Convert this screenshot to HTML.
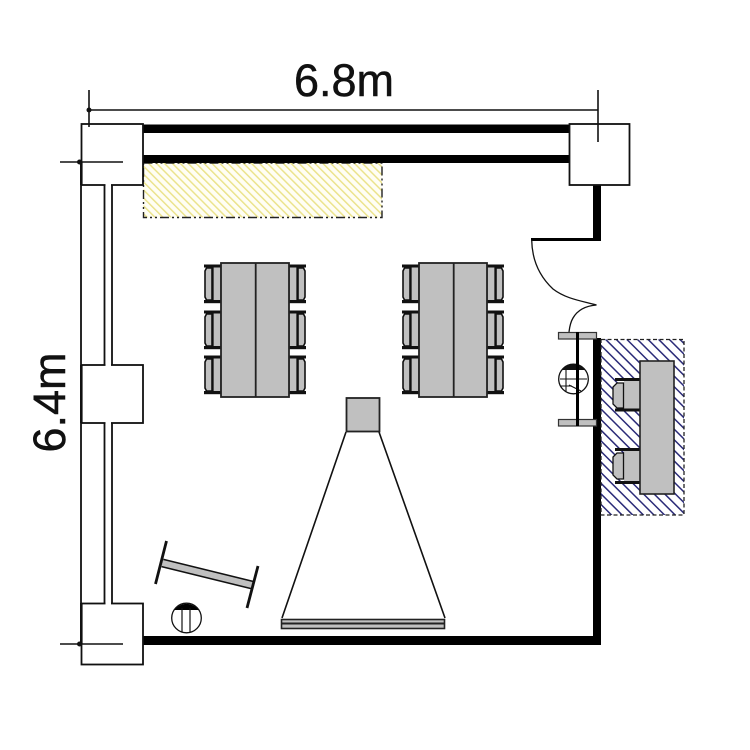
<!DOCTYPE html>
<html><head><meta charset="utf-8"><style>
html,body{margin:0;padding:0;background:#fff}
svg{display:block}
text{font-family:"Liberation Sans",sans-serif;fill:#111;stroke:#111;stroke-width:.5px}
</style></head><body>
<svg width="750" height="750" viewBox="0 0 750 750" xmlns="http://www.w3.org/2000/svg">
<defs>
<pattern id="y" width="5.600" height="5.600" patternUnits="userSpaceOnUse" patternTransform="rotate(-45)"><rect width="5.600" height="5.600" fill="#fffef4"/><rect x="0" width="1.500" height="5.600" fill="#ebe38c"/></pattern>
<pattern id="b" width="7.500" height="7.500" patternUnits="userSpaceOnUse" patternTransform="rotate(-45)"><rect width="7.500" height="7.500" fill="#fff"/><rect x="0" width="1.500" height="7.500" fill="#2b2b78"/></pattern>
<g id="chairL">
<rect x="0" y="1" width="17" height="37" fill="#fff"/>
<rect x="9" y="1" width="8" height="36" fill="#c0c0c0" stroke="#111" stroke-width="1.300"/>
<path d="M2.500 3H8V35H2.500L1 32V6Z" fill="#c0c0c0" stroke="#111" stroke-width="1.600"/>
<rect x="0" y="-.5" width="17" height="3" fill="#111"/>
<rect x="0" y="35" width="17" height="3.200" fill="#111"/>
</g>
<g id="table">
<use href="#chairL" x="204" y="265"/><use href="#chairL" x="204" y="311"/><use href="#chairL" x="204" y="356"/>
<use href="#chairL" transform="translate(306,265) scale(-1,1)"/><use href="#chairL" transform="translate(306,311) scale(-1,1)"/><use href="#chairL" transform="translate(306,356) scale(-1,1)"/>
<rect x="221" y="263" width="68" height="134" fill="#c0c0c0" stroke="#222" stroke-width="1.800"/>
<line x1="255.700" y1="263" x2="255.700" y2="397" stroke="#222" stroke-width="1.800"/>
</g>
</defs>

<!-- dimensions -->
<text x="344" y="96" font-size="45" text-anchor="middle">6.8m</text>
<text transform="translate(65,402.500) rotate(-90)" font-size="45" text-anchor="middle">6.4m</text>
<g stroke="#111" stroke-width="1.600" fill="none">
<line x1="89" y1="110" x2="598" y2="110"/>
<line x1="89" y1="90" x2="89" y2="127"/>
<line x1="598" y1="90" x2="598" y2="142"/>
<line x1="60" y1="162" x2="123" y2="162"/>
<line x1="60" y1="644" x2="123" y2="644"/>
</g>

<!-- yellow zone -->
<rect x="143.500" y="163" width="238.500" height="54.500" fill="url(#y)"/>
<rect x="143.500" y="163" width="238.500" height="54.500" fill="none" stroke="#222" stroke-width="1.400" stroke-dasharray="9 3 2 3 2 3"/>

<!-- walls -->
<rect x="143" y="124.500" width="427" height="8.500" fill="#000"/>
<rect x="143" y="155" width="427" height="8" fill="#000"/>
<rect x="593" y="185" width="8" height="55" fill="#000"/>
<rect x="531" y="238" width="70" height="3" fill="#000"/>
<rect x="593" y="338" width="8" height="307" fill="#000"/>
<rect x="143" y="636" width="458" height="9" fill="#000"/>

<!-- window / pillars -->
<g fill="none" stroke="#111" stroke-width="1.800">
<path d="M81 185V365M104.500 185V365M112 185V365M81 423V603M104.500 423V603M112 423V603"/>
</g>
<g fill="#fff" stroke="#111" stroke-width="1.800">
<rect x="81.500" y="124" width="61.500" height="61"/>
<rect x="569.500" y="124" width="60" height="61"/>
<rect x="81.500" y="365" width="61.500" height="58"/>
<rect x="81.500" y="603.500" width="61.500" height="61"/>
</g>
<rect x="105.500" y="183" width="5.500" height="4" fill="#fff"/>
<rect x="105.500" y="363.500" width="5.500" height="3" fill="#fff"/>
<rect x="105.500" y="422" width="5.500" height="3" fill="#fff"/>
<rect x="105.500" y="602" width="5.500" height="3" fill="#fff"/>
<g stroke="#111" stroke-width="1.600" fill="none">
<line x1="89" y1="123" x2="89" y2="127"/>
<line x1="598" y1="124" x2="598" y2="142"/>
<line x1="81" y1="162" x2="123" y2="162"/>
<line x1="81" y1="644" x2="123" y2="644"/>
</g>
<g fill="#111">
<rect x="80" y="162" width="2.600" height="23"/>
<rect x="80" y="365" width="2.600" height="58"/>
<rect x="80" y="603" width="2.600" height="41"/>
<circle cx="89" cy="110" r="2.500"/><circle cx="79.500" cy="162" r="2.500"/><circle cx="79.500" cy="644" r="2.500"/>
</g>

<!-- door -->
<path d="M531.700 240C532 258 538 275 553 289C566 299 582 301 596.500 305C584 306 577 311 573 318C570 323 569.500 328 569 332" fill="none" stroke="#111" stroke-width="1.300"/>

<!-- tables -->
<use href="#table"/>
<use href="#table" x="198"/>

<!-- projector + screen -->
<path d="M346 432L282 618M379 432L445 618" stroke="#111" stroke-width="1.600" fill="none"/>
<rect x="346.500" y="398" width="33" height="33.500" fill="#c0c0c0" stroke="#222" stroke-width="1.800"/>
<rect x="281.500" y="619.500" width="163" height="9" fill="#c0c0c0" stroke="#222" stroke-width="1.600"/>
<line x1="281.500" y1="623.500" x2="444.500" y2="623.500" stroke="#222" stroke-width="2"/>

<!-- right hatched room -->
<rect x="601" y="339.500" width="83" height="175.500" fill="url(#b)"/>
<rect x="601" y="339.500" width="83" height="175.500" fill="none" stroke="#222" stroke-width="1.300" stroke-dasharray="4 2.500"/>
<rect x="624" y="379" width="16" height="32" fill="#c0c0c0"/>
<rect x="624" y="450" width="16" height="33" fill="#c0c0c0"/>
<path d="M617 383H623.500V408H617L613 404V387Z" fill="#c0c0c0" stroke="#111" stroke-width="1.300"/>
<path d="M617 453H623.500V479H617L613 475V457Z" fill="#c0c0c0" stroke="#111" stroke-width="1.300"/>
<g fill="#111">
<rect x="615" y="378" width="25" height="3"/><rect x="615" y="408.500" width="25" height="3"/>
<rect x="615" y="448" width="25" height="3"/><rect x="615" y="481" width="25" height="3"/>
</g>
<rect x="640" y="361" width="34" height="133" fill="#c0c0c0" stroke="#222" stroke-width="1.600"/>

<!-- lectern by door -->
<rect x="558.500" y="332.500" width="38" height="6.500" fill="#c0c0c0" stroke="#333" stroke-width="1.200"/>
<rect x="558.500" y="419.500" width="38" height="6.500" fill="#c0c0c0" stroke="#333" stroke-width="1.200"/>
<circle cx="573.500" cy="379" r="14.800" fill="#fff" stroke="#111" stroke-width="1.300"/>
<path d="M562 370A14.800 14.800 0 0 1 585 370Z" fill="#111"/>
<path d="M560 379H587M566 370V392M569 385L581 391M560 386H572" stroke="#111" stroke-width="1.100" fill="none"/>
<rect x="576" y="332" width="3" height="94" fill="#000"/>

<!-- whiteboard + bottom left circle -->
<path d="M162.500 563L252 585" stroke="#111" stroke-width="9"/>
<path d="M162.500 563L252 585" stroke="#c0c0c0" stroke-width="6"/>
<path d="M166.500 541L155.500 584M258 566L247 608" stroke="#111" stroke-width="2.800" fill="none"/>
<circle cx="186.500" cy="618" r="14.800" fill="#fff" stroke="#111" stroke-width="1.300"/>
<path d="M174.500 610A14.800 14.800 0 0 1 198.500 610Z" fill="#000"/>
<path d="M182 608V632M190 608V632" stroke="#111" stroke-width="1.200" fill="none"/>
</svg>
</body></html>
